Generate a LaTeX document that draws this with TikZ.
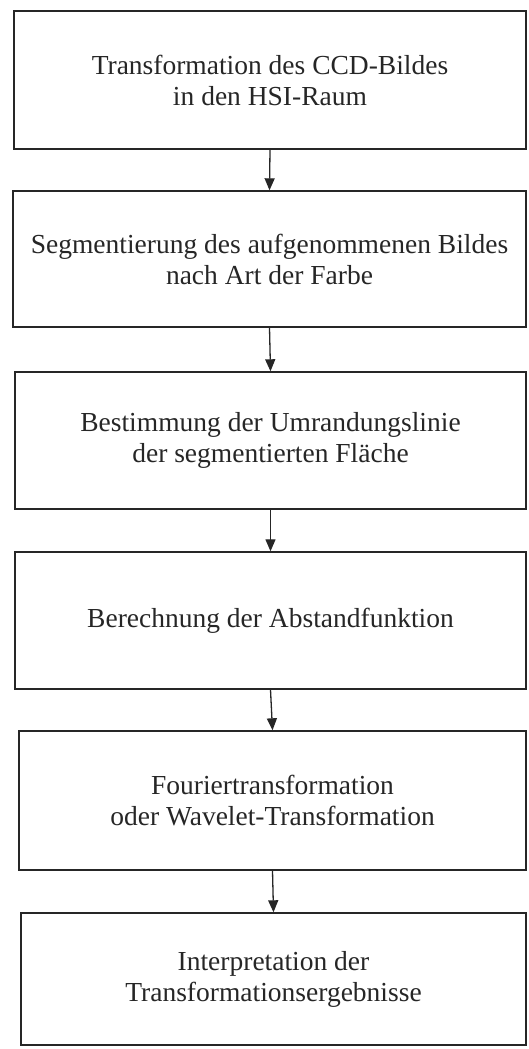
\documentclass[tikz,border=0pt]{standalone}
\usepackage{fontspec}
\setmainfont{Liberation Serif}
\usetikzlibrary{arrows.meta}

\begin{document}
\begin{tikzpicture}[x=1pt,y=-1pt]
\tikzstyle{kasten}=[draw=black!85, line width=1.4pt, align=center, inner sep=0pt, text=black!85, font=\fontsize{27.5}{31}\selectfont]
\tikzstyle{pfeil}=[black!85, line width=1.3pt, -{Triangle[length=12pt,width=10pt]}]
\useasboundingbox (0,0) rectangle (528,1049);
\node[kasten, minimum width=512pt, minimum height=138pt] (trafo) at (270,80) {Transformation des CCD-Bildes\\in den HSI-Raum};
\node[kasten, minimum width=513pt, minimum height=136pt] (segment) at (269.5,259) {Segmentierung des aufgenommenen Bildes\\nach Art der Farbe};
\node[kasten, minimum width=511pt, minimum height=137pt] (rand) at (270.5,440.5) {Bestimmung der Umrandungslinie\\der segmentierten Fläche};
\node[kasten, minimum width=511pt, minimum height=137pt] (abstand) at (270.5,620.5) {Berechnung der Abstandfunktion};
\node[kasten, minimum width=507pt, minimum height=139pt] (fourier) at (272.5,800.5) {Fouriertransformation\\oder Wavelet-Transformation};
\node[kasten, minimum width=505pt, minimum height=132pt] (interp) at (273.5,979) {Interpretation der\\Transformationsergebnisse};
% Pfeile zwischen den Kaesten
\draw[pfeil] (trafo.south) -- (segment.north);
\draw[pfeil] (segment.south) -- (rand.north);
\draw[pfeil] (rand.south) -- (abstand.north);
\draw[pfeil] (abstand.south) -- (fourier.north);
\draw[pfeil] (fourier.south) -- (interp.north);
\end{tikzpicture}
\end{document}
